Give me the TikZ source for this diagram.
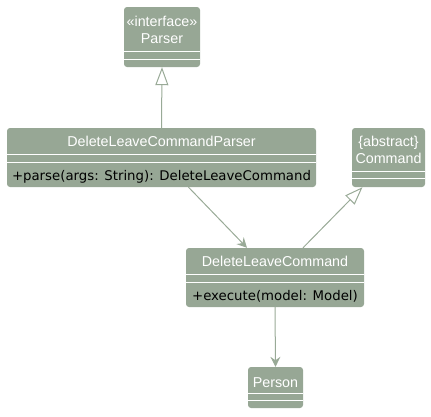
\documentclass[tikz,border=0pt]{standalone}
\usepackage{fontspec}
\setmainfont{Liberation Sans}
\newfontfamily\opfont{DejaVu Sans}
\usetikzlibrary{arrows.meta,positioning,calc}
\definecolor{ClassFill}{HTML}{97A795}
\definecolor{ClassLine}{HTML}{99AA97}

\tikzset{
  classbox/.style={fill=ClassFill,rounded corners=3pt,inner sep=0pt},
  classname/.style={text=white,align=center,inner sep=0pt,font=\fontsize{14.3}{17}\selectfont},
  classop/.style={text=black,inner sep=0pt,font=\opfont\fontsize{13.3}{15}\selectfont},
  compsep/.style={draw=white,line width=1pt},
  realize/.style={draw=ClassLine,line width=1pt,-{Triangle[open,length=18pt,width=13pt,fill=white]}},
  assoc/.style={draw=ClassLine,line width=1pt,-{Stealth[length=10pt,width=10pt,inset=3.5pt]}},
}
% two white compartment lines, offsets measured from the top of the box
\newcommand{\compsep}[3]{%
  \draw[compsep] ([yshift=-#2]#1.north west) -- ([yshift=-#2]#1.north east);
  \draw[compsep] ([yshift=-#3]#1.north west) -- ([yshift=-#3]#1.north east);}

\begin{document}
\begin{tikzpicture}[x=1pt,y=-1pt]
  \useasboundingbox (0,0) rectangle (431,416);

  % classes
  \node[classbox,minimum width=76pt,minimum height=60pt] (parser) at (162,37) {};
  \node[classname] (parsername) at ([yshift=-23pt]parser.north) {«interface»\\Parser};
  \compsep{parser}{45pt}{52.5pt}

  \node[classbox,minimum width=309pt,minimum height=59pt] (dlcp) at (161.5,157.5) {};
  \node[classname] (dlcpname) at ([yshift=-13.5pt]dlcp.north) {DeleteLeaveCommandParser};
  \node[classop] (dlcpop) at ([yshift=-49pt]dlcp.north) {+parse(args: String): DeleteLeaveCommand};
  \compsep{dlcp}{27pt}{35pt}

  \node[classbox,minimum width=73pt,minimum height=59pt] (command) at (388.5,157.5) {};
  \node[classname] (commandname) at ([yshift=-22pt]command.north) {\{abstract\}\\Command};
  \compsep{command}{44pt}{51pt}

  \node[classbox,minimum width=178pt,minimum height=59pt] (dlc) at (275,277.5) {};
  \node[classname] (dlcname) at ([yshift=-13.5pt]dlc.north) {DeleteLeaveCommand};
  \node[classop] (dlcop) at ([yshift=-49pt]dlc.north) {+execute(model: Model)};
  \compsep{dlc}{27pt}{35pt}

  \node[classbox,minimum width=55pt,minimum height=41pt] (person) at (275.5,387.5) {};
  \node[classname] (personname) at ([yshift=-16pt]person.north) {Person};
  \compsep{person}{27pt}{34pt}

  % relations
  \draw[realize] (dlcp.north) -- (parser.south);
  \draw[realize] ([xshift=28pt]dlc.north) -- ([xshift=-26pt]command.south);
  \draw[assoc] ([xshift=27pt]dlcp.south) -- ([xshift=-28pt]dlc.north);
  \draw[assoc] (dlc.south) -- (person.north);
\end{tikzpicture}
\end{document}
